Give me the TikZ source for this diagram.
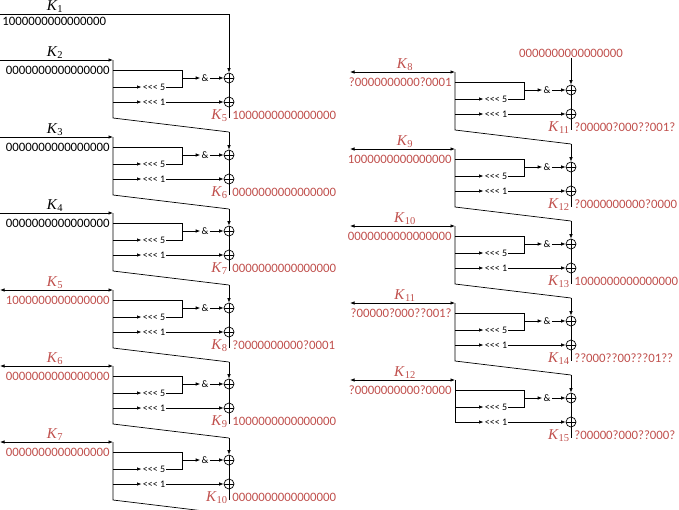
\documentclass[tikz,border=0pt]{standalone}
\usepackage{fontspec}
\setmainfont{Carlito}[Ligatures=TeXOff]
\newfontfamily\kfont{Liberation Serif}
\usepackage{xcolor}
\usetikzlibrary{arrows.meta,calc,positioning}
\definecolor{kred}{HTML}{C0504D}
\newcommand{\klab}[1]{\textit{K}\textsubscript{#1}}

\begin{document}
\begin{tikzpicture}[
    x=1pt, y=-1pt,
    line width=0.7pt,
    >={Latex[length=4.5pt,width=3.5pt]},
    insingle/.style={->},
    indouble/.style={<->},
    bits/.style={inner sep=0pt, font=\fontsize{12.8}{14}\selectfont},
    ops/.style={inner sep=1pt, font=\fontsize{10}{11}\selectfont},
    klabel/.style={inner sep=0pt, font=\kfont\fontsize{15}{16}\selectfont},
    xorop/.style={circle, draw, minimum size=10pt, inner sep=0pt,
        path picture={\draw (path picture bounding box.north) -- (path picture bounding box.south)
                            (path picture bounding box.west) -- (path picture bounding box.east);}}
]
\useasboundingbox (0,0) rectangle (679,509);

% K1 feeds the first round
\node[klabel, anchor=south] (lab-1) at (55,13) {\klab{1}};
\coordinate (k1s) at (0,14);
\coordinate (k1c) at (229,14);
\draw (k1s) -- (k1c);
\node[bits, anchor=north west] (in-1) at (2,17) {1000000000000000};

% top input of the right column
\node[bits, text=kred] (top-r) at (571,53) {0000000000000000};

\foreach \i/\xs/\xv/\y/\clr/\tip/\txt/\o/\otxt/\feed/\last in {
    2/0/113/60/black/insingle/0000000000000000/5/1000000000000000/k1c/0,
    3/0/113/137/black/insingle/0000000000000000/6/0000000000000000/sl-2/0,
    4/0/113/213/black/insingle/0000000000000000/7/0000000000000000/sl-3/0,
    5/0/113/290/kred/indouble/1000000000000000/8/?0000000000?0001/sl-4/0,
    6/0/113/366/kred/indouble/0000000000000000/9/1000000000000000/sl-5/0,
    7/0/113/442/kred/indouble/0000000000000000/10/0000000000000000/sl-6/0,
    8/350/455/72/kred/indouble/?0000000000?0001/11/?00000?000??001?/top-r/0,
    9/350/455/149/kred/indouble/1000000000000000/12/?0000000000?0000/sl-8/0,
    10/350/455/226/kred/indouble/0000000000000000/13/1000000000000000/sl-9/0,
    11/350/455/303/kred/indouble/?00000?000??001?/14/??000??00???01??/sl-10/0,
    12/350/455/380/kred/indouble/?0000000000?0000/15/?00000?000??000?/sl-11/1}
{
    % key input
    \coordinate (s-\i) at (\xs,\y);
    \coordinate (v-\i) at (\xv,\y);
    \node[klabel, text=\clr, anchor=south] (lab-\i) at (\xs+55,\y-1) {\klab{\i}};
    \node[bits, text=\clr, anchor=east] (in-\i) at (\xv-3,\y+10) {\txt};
    \draw[\tip] (s-\i) -- (v-\i);

    % branch points
    \coordinate (t-\i) at (\xv,\y+10);
    \coordinate (m5-\i) at (\xv,\y+27);
    \coordinate (m1-\i) at (\xv,\y+42);
    \coordinate (vb-\i) at (\xv,\y+58);
    \coordinate (bt-\i) at (\xv+69,\y+10);
    \coordinate (bm-\i) at (\xv+69,\y+18);
    \coordinate (bb-\i) at (\xv+69,\y+27);
    \coordinate (tk-\i) at (\xv+116,\y+58);
    \coordinate (sl-\i) at (\xv+116,\y+72);

    \node[ops] (r5-\i) at (\xv+41,\y+27) {<<< 5};
    \node[ops] (r1-\i) at (\xv+41,\y+42) {<<< 1};
    \node[ops] (and-\i) at (\xv+92,\y+18) {\&};
    \node[xorop] (x1-\i) at (\xv+116,\y+18) {};
    \node[xorop] (x2-\i) at (\xv+116,\y+42) {};

    \draw (t-\i) -- (bt-\i) -- (bb-\i) -- (r5-\i.east);
    \draw[->] (m5-\i) -- (r5-\i.west);
    \draw[->] (bm-\i) -- (and-\i);
    \draw[->] (and-\i) -- (x1-\i);
    \draw[->] (m1-\i) -- (r1-\i);
    \draw[->] (r1-\i) -- (x2-\i);
    \draw (x1-\i) -- (x2-\i);
    \draw (x2-\i) -- (tk-\i);
    \draw[->] (\feed) -- (x1-\i);

    % output
    \node[klabel, text=kred, anchor=south east] (ol-\i) at (\xv+115,\y+62) {\klab{\o}};
    \node[bits, text=kred, anchor=west] (out-\i) at (\xv+119,\y+55) {\otxt};

    \ifnum\last=1
        \draw (v-\i) -- (m1-\i);
    \else
        \draw (v-\i) -- (vb-\i) -- (sl-\i);
    \fi
}
\end{tikzpicture}
\end{document}
